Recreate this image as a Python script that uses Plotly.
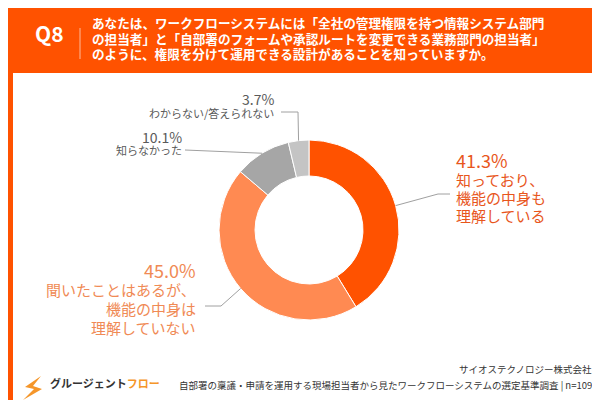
import numpy as np
import plotly.graph_objects as go

# data
labels = ["知っており、<br>機能の中身も<br>理解している",
          "聞いたことはあるが、<br>機能の中身は<br>理解していない",
          "知らなかった",
          "わからない/答えられない"]
values = [41.3, 45.0, 10.1, 3.7]
pcts = ["41.3%", "45.0%", "10.1%", "3.7%"]
colors = ["#FF5200", "#FF8A52", "#A6A6A6", "#C4C4C4"]
text_colors = ["#E8561C", "#F08A55", "#5A5A5A", "#5A5A5A"]

question = ("あなたは、ワークフローシステムには「全社の管理権限を持つ情報システム部門<br>"
            "の担当者」と「自部署のフォームや承認ルートを変更できる業務部門の担当者」<br>"
            "のように、権限を分けて運用できる設計があることを知っていますか。")
source_1 = "サイオステクノロジー株式会社"
source_2 = "自部署の稟議・申請を運用する現場担当者から見たワークフローシステムの選定基準調査 | n=109"

W, H = 600, 400
FONT = "Noto Sans CJK JP"


def px(x):
    return x / W


def py(y):
    return 1 - y / H


# pie geometry (pixels)
cx, cy, R = 301, 222, 90

fig = go.Figure()
fig.add_trace(go.Pie(
    labels=labels, values=values, sort=False, direction="clockwise", rotation=0,
    hole=0.6, textinfo="none", hoverinfo="label+percent",
    marker=dict(colors=colors, line=dict(color="white", width=1)),
    domain=dict(x=[px(cx - R), px(cx + R)], y=[py(cy + R), py(cy - R)]),
    showlegend=False,
))

shapes = [
    # white card on orange frame
    dict(type="rect", xref="paper", yref="paper", x0=px(5), x1=px(595), y0=py(393), y1=py(65),
         fillcolor="white", line=dict(width=0), layer="below"),
    # divider in header
    dict(type="line", xref="paper", yref="paper", x0=px(72), x1=px(72), y0=py(20), y1=py(51),
         line=dict(color="rgba(255,255,255,0.6)", width=1)),
    # logo mark
    dict(type="path", xref="paper", yref="paper",
         path="M {} {} L {} {} L {} {} L {} {} L {} {} L {} {} Z".format(
             px(33), py(368), px(17), py(379), px(26), py(381),
             px(15), py(392), px(34), py(381), px(25), py(378)),
         fillcolor="#F5962A", line=dict(width=0)),
]

# leader lines start at the middle of each slice on the outer edge
cum = np.cumsum(values)
mids = (cum - np.array(values) / 2) / cum[-1] * 2 * np.pi
edge = [(cx + R * np.sin(a), cy - R * np.cos(a)) for a in mids]
elbows = [[(430, 186), (442, 186)],
          [(213, 298), (197, 298)],
          [(177, 142)],
          [(290, 104), (273, 104)]]
for (x0, y0), pts in zip(edge, elbows):
    path = "M {} {}".format(px(x0), py(y0))
    for x, y in pts:
        path += " L {} {}".format(px(x), py(y))
    shapes.append(dict(type="path", xref="paper", yref="paper", path=path,
                       line=dict(color="#A0A0A0", width=1)))

annotations = []


def add_text(text, x, y, size, color, xanchor="left", step=None):
    # one annotation per line, y is the visual centre of the first line (pixels)
    for i, line in enumerate(text.split("<br>")):
        yy = y + i * (step or size * 1.25) - 0.5 * size
        annotations.append(dict(text=line, x=px(x), y=py(yy), xanchor=xanchor, yanchor="middle",
                                font=dict(size=size, color=color)))


add_text("<b>Q8</b>", 41, 36, 21, "white", xanchor="center")
add_text("<b>" + question.replace("<br>", "</b><br><b>") + "</b>", 82, 21, 12.6, "white", step=15.5)
add_text(source_1, 586, 366, 9.5, "#333", xanchor="right")
add_text(source_2, 586, 382, 9.5, "#333", xanchor="right")
add_text("<b>グルージェント<span style='color:#F5962A'>フロー</span></b>", 40, 380, 11, "#333")

# slice labels
label_pos = [
    dict(x=446, y=161, xanchor="left", ty=179, step=18, ps=18, ts=15),
    dict(x=190, y=271, xanchor="right", ty=289, step=19, ps=18, ts=15),
    dict(x=176, y=136, xanchor="right", ty=147, step=None, ps=14, ts=11),
    dict(x=268, y=98, xanchor="right", ty=111, step=None, ps=14, ts=11),
]
for pct, lab, col, p in zip(pcts, labels, text_colors, label_pos):
    add_text(pct, p["x"], p["y"], p["ps"], col, xanchor=p["xanchor"])
    add_text(lab, p["x"], p["ty"], p["ts"], col, xanchor=p["xanchor"], step=p["step"])

for a in annotations:
    a.update(xref="paper", yref="paper", showarrow=False)

fig.update_layout(
    width=W, height=H, margin=dict(l=0, r=0, t=0, b=0),
    paper_bgcolor="#FF5200", plot_bgcolor="white",
    font=dict(family=FONT),
    shapes=shapes, annotations=annotations,
)

fig.write_html("out.html")
